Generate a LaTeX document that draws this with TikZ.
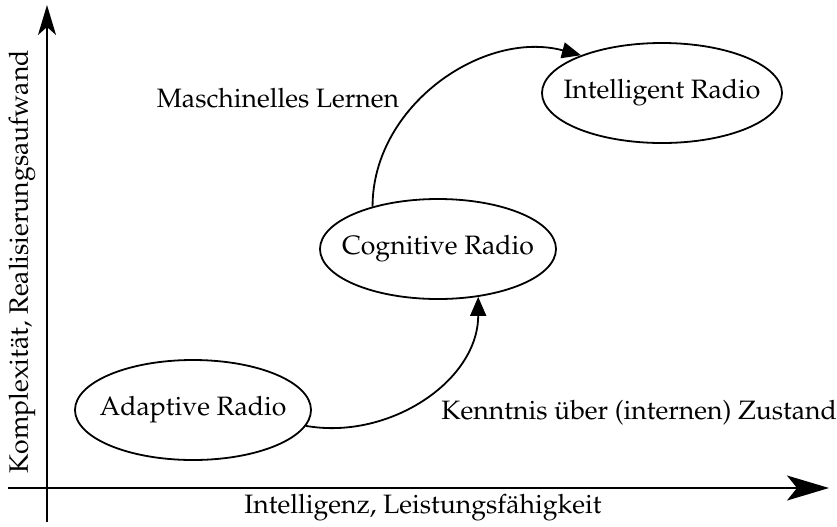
\documentclass[tikz,border=0pt]{standalone}
\usepackage[T1]{fontenc}
\usepackage{mathpazo}
\usetikzlibrary{shapes.geometric,arrows.meta}
\tikzset{
  radio/.style={draw, ellipse, line width=0.9pt, inner sep=0pt,
    minimum width=118pt, minimum height=50pt, label={[lbl]center:#1}},
  axis/.style={line width=0.9pt},
  flow/.style={line width=0.9pt, -{Triangle[length=9.5pt,width=8pt]}},
  lbl/.style={inner sep=0pt},
}
\begin{document}
\begin{tikzpicture}[x=0.5pt,y=-0.5pt,font=\fontsize{13.3}{16}\selectfont]
\useasboundingbox (0,0) rectangle (837,526);
% axes
\coordinate (yb) at (47,522);
\coordinate (yt) at (47,5);
\coordinate (xl) at (8,488);
\coordinate (xr) at (829,488);
\draw[axis,-{Stealth[length=15pt,width=9pt,inset=4pt]}] (yb) -- (yt);
\draw[axis,-{Stealth[length=21pt,width=12.5pt,inset=5pt]}] (xl) -- (xr);
\node[lbl,rotate=90] (ylab) at (22,262) {Komplexit\"at, Realisierungsaufwand};
\node[lbl] (xlab) at (423,508) {Intelligenz, Leistungsf\"ahigkeit};
% stages
\node[radio=Adaptive Radio] (ad) at (193,410) {};
\node[radio=Cognitive Radio] (cg) at (438,249) {};
\node[radio=Intelligent Radio,minimum width=120pt] (ir) at (662,93) {};
% transitions
\draw[flow] (ad.-8) to[out=-10,in=-90] (cg.-50);
\draw[flow] (cg.147) to[out=90,in=165] (ir.155);
\node[lbl] (ml) at (278,98) {Maschinelles Lernen};
\node[lbl,anchor=west] (kz) at (441,413) {Kenntnis \"uber (internen) Zustand};
\end{tikzpicture}
\end{document}
